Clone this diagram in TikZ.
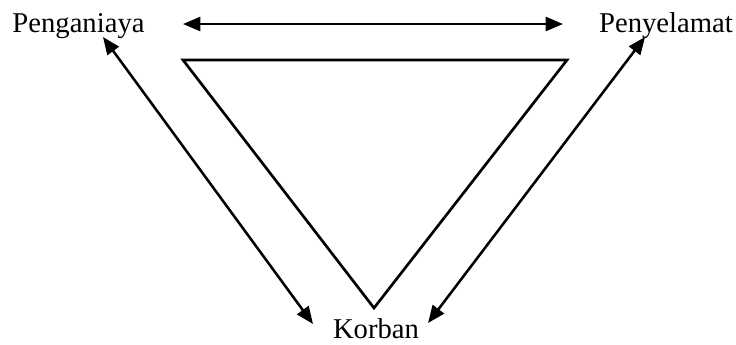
\documentclass[tikz,border=0pt]{standalone}
\usepackage{fontspec}
\setmainfont{Liberation Serif}
\usetikzlibrary{arrows.meta}
\begin{document}
\begin{tikzpicture}[x=0.75pt,y=-0.75pt,
  lbl/.style={anchor=base,inner sep=0pt,font=\fontsize{21.5}{25}\selectfont},
  dbl/.style={line width=1.9pt,{Triangle[length=13pt,width=10.5pt]}-{Triangle[length=13pt,width=10.5pt]}},
  tri/.style={line width=2pt,line join=miter}]
\useasboundingbox (0,0) rectangle (736,344);
\node[lbl] (p) at (78.5,32) {Penganiaya};
\node[lbl] (s) at (666,32) {Penyelamat};
\node[lbl] (k) at (376,338.5) {Korban};
\coordinate (pt) at (183,24);
\coordinate (st) at (563,24);
\coordinate (pd) at (103,37);
\coordinate (kl) at (313,324);
\coordinate (sd) at (645,37);
\coordinate (kr) at (428,323);
\draw[dbl] (pt) -- (st);
\draw[dbl] (pd) -- (kl);
\draw[dbl] (sd) -- (kr);
\draw[tri] (183,60) -- (567,60) -- (374,308) -- cycle;
\end{tikzpicture}
\end{document}
